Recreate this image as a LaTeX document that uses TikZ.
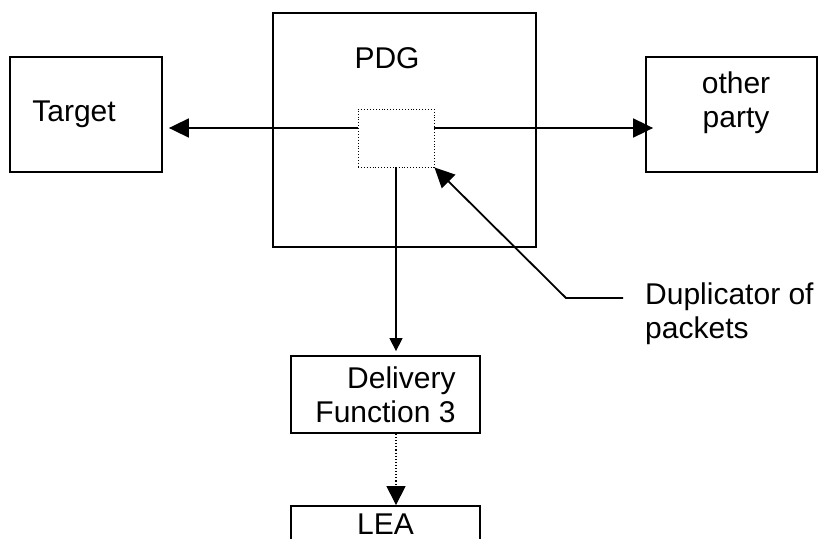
\documentclass[tikz,border=0pt]{standalone}
\usepackage{fontspec}
\setmainfont{Liberation Sans}
\usetikzlibrary{arrows.meta}

\begin{document}
\begin{tikzpicture}[x=1pt, y=-1pt,
    every node/.style={font=\fontsize{30}{34}\selectfont},
    box/.style={draw, line width=1.8pt, inner sep=0pt},
    arr/.style={line width=1.8pt, -{Triangle[length=20pt, width=19pt]}}]
    \clip (0,0) rectangle (826,538);

    \node[box, minimum width=152pt, minimum height=115pt,
          label={[xshift=-12pt]center:Target}] (target) at (86,114.5) {};
    \node[box, minimum width=263pt, minimum height=234pt] (pdg) at (404.5,130) {};
    \node (pdgname) at (387,58) {PDG};
    \node[draw, dotted, line width=0.9pt, minimum width=76pt, minimum height=58pt,
          inner sep=0pt] (dup) at (396,138) {};
    \node[box, minimum width=171pt, minimum height=115pt,
          label={[align=center, xshift=4.5pt, yshift=12pt]center:other\\party}] (party) at (731.5,114.5) {};

    \node[box, minimum width=189pt, minimum height=77pt, align=right] (delivery) at (385.5,394.5) {Delivery\\Function 3};
    \node[box, minimum width=189pt, minimum height=37pt] (lea) at (385.5,524.5) {LEA};

    % traffic out of the duplicator
    \draw[arr, shorten >=6pt] ([yshift=10pt]dup.west) -- ([yshift=10pt]dup.west -| target.east);
    \draw[arr, shorten >=-8pt] ([yshift=10pt]dup.east) -- ([yshift=10pt]dup.east -| party.west);
    \draw[line width=1.3pt, -{Triangle[length=13pt, width=13pt]}, shorten >=4pt]
        (dup.south) -- (dup.south |- delivery.north);
    \draw[dotted, line width=1.1pt, -{Triangle[length=19pt, width=19pt]}]
        (dup.south |- delivery.south) -- (dup.south |- lea.north);

    % pointer to the duplicator
    \coordinate (dupfoot) at (623,298);
    \coordinate (dupbend) at (566,298);
    \draw[arr] (dupfoot) -- (dupbend) -- (dup.south east);
    \node[anchor=north west, align=left, inner sep=0pt] (duptext) at (645,283) {Duplicator of\\packets};
\end{tikzpicture}
\end{document}
